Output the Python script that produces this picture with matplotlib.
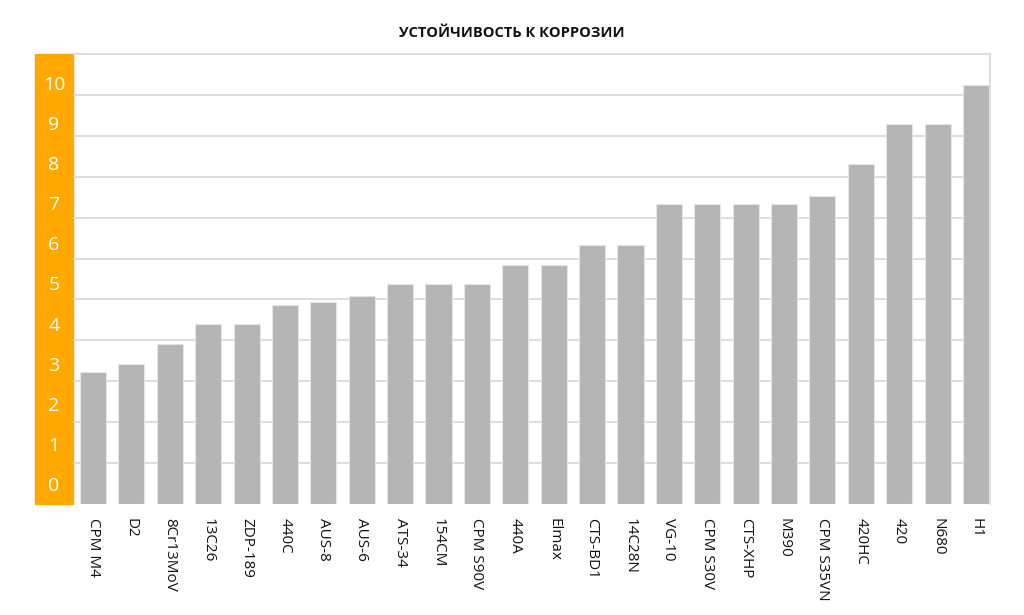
import numpy as np
import matplotlib.pyplot as plt
from matplotlib.patches import Rectangle

plt.rcParams['font.family'] = ['Open Sans', 'DejaVu Sans']

steels = ['CPM M4', 'D2', '8Cr13MoV', '13C26', 'ZDP-189', '440C', 'AUS-8', 'AUS-6',
          'ATS-34', '154CM', 'CPM S90V', '440A', 'Elmax', 'CTS-BD1', '14C28N', 'VG-10',
          'CPM S30V', 'CTS-XHP', 'M390', 'CPM S35VN', '420HC', '420', 'N680', 'H1']
corrosion = [3.22, 3.42, 3.90, 4.39, 4.39, 4.86, 4.94, 5.08,
             5.37, 5.37, 5.37, 5.84, 5.84, 6.34, 6.34, 7.33,
             7.33, 7.33, 7.33, 7.53, 8.31, 9.29, 9.29, 10.25]
scale_labels = [str(i) for i in range(11)]

fig = plt.figure(figsize=(10.24, 6.15), dpi=100)
ax = fig.add_axes([73/1024, 1-504/615, 917/1024, 450/615])

x = np.arange(len(steels))
ax.bar(x, corrosion, width=0.68, color='#b4b5b4', edgecolor='#e4e4e4', lw=0.8, zorder=3)

ax.set_xlim(-0.521, 23.365)
ax.set_ylim(0, 11)

# grid lines sit on the integer levels, the scale numbers sit between them
ax.set_yticks(range(1, 11), minor=True)
ax.grid(which='minor', axis='y', color='#d3d3d3', lw=1.1, zorder=0)
ax.set_yticks(np.linspace(0.48, 10.30, 11), scale_labels)
ax.tick_params(axis='y', which='both', length=0)
ax.tick_params(axis='y', which='major', pad=13.7, labelsize=14, labelcolor='white')
for lbl in ax.get_yticklabels():
    lbl.set_horizontalalignment('center')
    lbl.set_fontweight('medium')

ax.set_xticks(x, steels, rotation=270, fontsize=11, color='#111111')
ax.tick_params(axis='x', length=0, pad=10)
for lbl in ax.get_xticklabels():
    lbl.set_fontweight('medium')

ax.spines['left'].set_visible(False)
ax.spines['bottom'].set_visible(False)
for s in ['top', 'right']:
    ax.spines[s].set_color('#d3d3d3')
    ax.spines[s].set_linewidth(1.1)

# orange band behind the y scale
ax.add_patch(Rectangle((-38/917, 0), 38/917, 1, transform=ax.transAxes,
                       color='#ffa800', clip_on=False, zorder=1))

fig.text(0.5, 1-33/615, 'УСТОЙЧИВОСТЬ К КОРРОЗИИ', ha='center', va='center',
         fontsize=10.5, fontweight='bold', color='#111111')

plt.savefig('out.png', dpi=100)
